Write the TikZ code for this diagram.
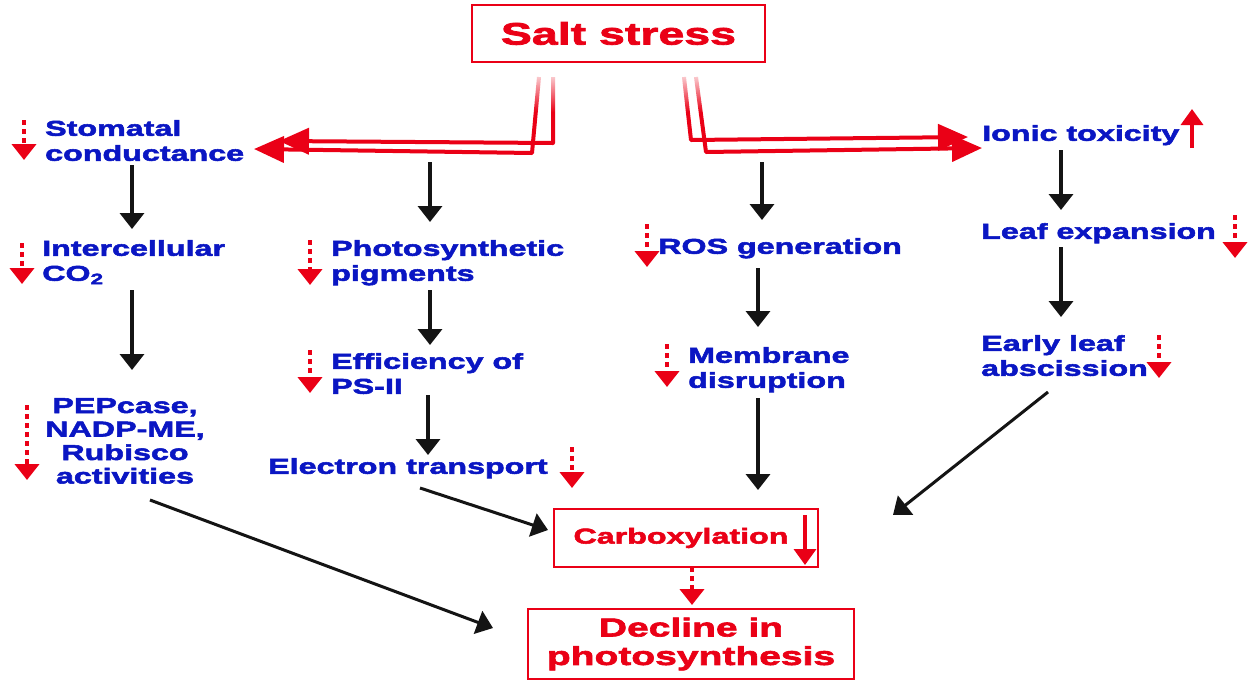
\documentclass[tikz,border=0pt]{standalone}
\usepackage{fontspec}
\setmainfont[FakeStretch=1.5,BoldFeatures={FakeBold=2.5}]{Liberation Sans}
\usetikzlibrary{arrows.meta,fadings}
\definecolor{cred}{RGB}{234,0,22}
\definecolor{cblue}{RGB}{10,22,195}
\definecolor{cblk}{RGB}{20,20,20}
\tikzfading[name=fadedown, top color=transparent!15, bottom color=transparent!100]
\tikzset{
  lbl/.style={font=\fontsize{21.5}{25}\selectfont\bfseries, text=cblue, inner sep=0pt, anchor=north west, align=left},
  blk/.style={draw=cblk, line width=3.5pt, -{Triangle[length=16pt,width=24pt]}},
  dnred/.style={draw=cred, line width=4pt, dash pattern=on 5pt off 4pt, -{Triangle[length=16pt,width=24pt]}},
  upred/.style={draw=cred, line width=3.5pt, -{Triangle[length=16pt,width=22pt]}},
  dbl/.style={draw=cred, line width=4pt, line join=round, -{Triangle[length=30pt,width=26pt]}},
  rbox/.style={draw=cred, line width=2.5pt, text=cred, inner sep=0pt, align=center}
}
\begin{document}
\begin{tikzpicture}[x=1pt,y=-1pt]
\useasboundingbox[fill=white] (0,0) rectangle (1250,697);

% boxes
\node[rbox, minimum width=293pt, minimum height=57pt, font=\fontsize{31}{34}\selectfont\bfseries] (salt) at (618.5,33.5) {Salt stress};
\node[rbox, minimum width=264pt, minimum height=58pt, font=\fontsize{21.5}{25}\selectfont\bfseries] (carb) at (686,538) {\hspace*{-4pt}Carboxylation\hspace*{6pt}};
\node[rbox, minimum width=326pt, minimum height=70pt, font=\fontsize{26}{28.5}\selectfont\bfseries] (decl) at (691,644) {Decline in\\photosynthesis};

% labels
\node[lbl] (stom) at (45,120) {Stomatal\\conductance};
\node[lbl] (inter) at (42,240) {Intercellular\\CO\textsubscript{2}};
\node[lbl, align=center, anchor=north, font=\fontsize{21.5}{23.5}\selectfont\bfseries] (pep) at (125,398) {PEPcase,\\NADP-ME,\\Rubisco\\activities};
\node[lbl] (pig) at (331,240) {Photosynthetic\\pigments};
\node[lbl] (eff) at (331,353) {Efficiency of\\PS-II};
\node[lbl] (elec) at (268,458) {Electron transport};
\node[lbl] (ros) at (658,238) {ROS generation};
\node[lbl] (mem) at (688,347) {Membrane\\disruption};
\node[lbl] (ion) at (982,125) {Ionic toxicity};
\node[lbl] (leaf) at (981,223) {Leaf expansion};
\node[lbl] (early) at (981,335) {Early leaf\\abscission};

% double red arrows from salt stress
\coordinate (la1) at (553,77); \coordinate (la2) at (553,143); \coordinate (la3) at (279,141);
\coordinate (lb1) at (539,77); \coordinate (lb2) at (532,153); \coordinate (lb3) at (254,149);
\coordinate (ra1) at (684,77); \coordinate (ra2) at (691,140); \coordinate (ra3) at (968,137);
\coordinate (rb1) at (696,77); \coordinate (rb2) at (706,152); \coordinate (rb3) at (982,148);
\draw[dbl] (la1) -- (la2) -- (la3);
\draw[dbl] (lb1) -- (lb2) -- (lb3);
\draw[dbl] (ra1) -- (ra2) -- (ra3);
\draw[dbl] (rb1) -- (rb2) -- (rb3);
\fill[white, path fading=fadedown] (525,74) rectangle (562,112);
\fill[white, path fading=fadedown] (676,74) rectangle (705,112);

% black arrows
\coordinate (b1s) at (132,165); \coordinate (b1e) at (132,229);
\coordinate (b2s) at (132,290); \coordinate (b2e) at (132,370);
\coordinate (b3s) at (430,162); \coordinate (b3e) at (430,222);
\coordinate (b4s) at (430,290); \coordinate (b4e) at (430,345);
\coordinate (b5s) at (428,395); \coordinate (b5e) at (428,455);
\coordinate (b6s) at (762,162); \coordinate (b6e) at (762,220);
\coordinate (b7s) at (758,268); \coordinate (b7e) at (758,327);
\coordinate (b8s) at (758,398); \coordinate (b8e) at (758,490);
\coordinate (b9s) at (1061,150); \coordinate (b9e) at (1061,210);
\coordinate (b10s) at (1061,247); \coordinate (b10e) at (1061,317);
\coordinate (d1s) at (420,488); \coordinate (d1e) at (548,530);
\coordinate (d2s) at (150,500); \coordinate (d2e) at (493,628);
\coordinate (d3s) at (1048,392); \coordinate (d3e) at (893,515);
\draw[blk] (b1s) -- (b1e);
\draw[blk] (b2s) -- (b2e);
\draw[blk] (b3s) -- (b3e);
\draw[blk] (b4s) -- (b4e);
\draw[blk] (b5s) -- (b5e);
\draw[blk] (b6s) -- (b6e);
\draw[blk] (b7s) -- (b7e);
\draw[blk] (b8s) -- (b8e);
\draw[blk] (b9s) -- (b9e);
\draw[blk] (b10s) -- (b10e);
\draw[blk, line width=3pt] (d1s) -- (d1e);
\draw[blk, line width=3pt] (d2s) -- (d2e);
\draw[blk, line width=3pt] (d3s) -- (d3e);

% red indicator arrows
\coordinate (r1s) at (24,120);  \coordinate (r1e) at (24,160);
\coordinate (r2s) at (22,243);  \coordinate (r2e) at (22,284);
\coordinate (r3s) at (27,405);  \coordinate (r3e) at (27,480);
\coordinate (r4s) at (310,240); \coordinate (r4e) at (310,285);
\coordinate (r5s) at (310,350); \coordinate (r5e) at (310,393);
\coordinate (r6s) at (572,447); \coordinate (r6e) at (572,488);
\coordinate (r7s) at (647,224); \coordinate (r7e) at (647,267);
\coordinate (r8s) at (667,344); \coordinate (r8e) at (667,387);
\coordinate (r9s) at (1235,215); \coordinate (r9e) at (1235,258);
\coordinate (r10s) at (1159,335); \coordinate (r10e) at (1159,378);
\coordinate (r11s) at (692,567); \coordinate (r11e) at (692,605);
\draw[dnred] (r1s) -- (r1e);
\draw[dnred] (r2s) -- (r2e);
\draw[dnred] (r3s) -- (r3e);
\draw[dnred] (r4s) -- (r4e);
\draw[dnred] (r5s) -- (r5e);
\draw[dnred] (r6s) -- (r6e);
\draw[dnred] (r7s) -- (r7e);
\draw[dnred] (r8s) -- (r8e);
\draw[dnred] (r9s) -- (r9e);
\draw[dnred] (r10s) -- (r10e);
\draw[dnred] (r11s) -- (r11e);

\coordinate (u1s) at (1192,148); \coordinate (u1e) at (1192,109);
\coordinate (u2s) at (805,515); \coordinate (u2e) at (805,565);
\draw[upred] (u1s) -- (u1e);
\draw[upred] (u2s) -- (u2e);
\end{tikzpicture}
\end{document}
